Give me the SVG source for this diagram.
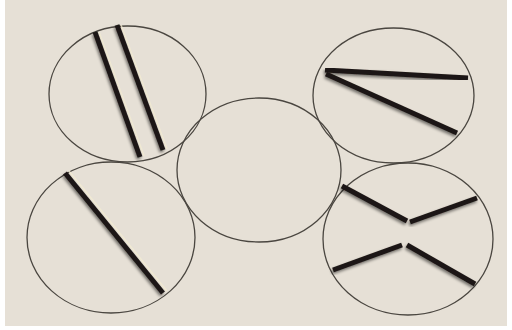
<svg xmlns="http://www.w3.org/2000/svg" width="512" height="330" viewBox="0 0 512 330">
<style>
.ring{fill:none;stroke:#4a4640;stroke-width:1.3}
.bar{stroke:#1c1614;stroke-width:5;stroke-linecap:butt;filter:url(#sh)}
.hl{stroke:#f3ecd2;stroke-width:1.5;opacity:0.8}
</style>
<defs>
<filter id="sh" x="-20%" y="-20%" width="140%" height="140%">
<feGaussianBlur in="SourceAlpha" stdDeviation="1.8"/>
<feOffset dx="-1" dy="1.5" result="b"/>
<feComponentTransfer><feFuncA type="linear" slope="0.5"/></feComponentTransfer>
<feMerge><feMergeNode/><feMergeNode in="SourceGraphic"/></feMerge>
</filter>
</defs>
<rect width="512" height="330" fill="#ffffff"/>
<rect x="5" y="0" width="502" height="326" fill="#e6e0d6"/>
<g id="circle-top-left">
<ellipse class="ring" cx="127.5" cy="94" rx="78.5" ry="68"/>
<line class="hl" x1="99" y1="32" x2="144" y2="156"/>
<line class="hl" x1="121" y1="25" x2="167" y2="149"/>
<line class="bar" x1="95" y1="32" x2="140" y2="157"/>
<line class="bar" x1="117" y1="25" x2="163" y2="150"/>
</g>
<g id="circle-top-right">
<ellipse class="ring" cx="393.5" cy="95.5" rx="80.5" ry="67.5"/>
<line class="bar" x1="325" y1="70" x2="468" y2="78"/>
<line class="bar" x1="326" y1="74" x2="457" y2="133"/>
</g>
<g id="circle-center">
<ellipse class="ring" cx="259" cy="170" rx="82" ry="72"/>
</g>
<g id="circle-bottom-left">
<ellipse class="ring" cx="111" cy="237.5" rx="84" ry="75.5"/>
<line class="hl" x1="69" y1="171" x2="167" y2="291"/>
<line class="bar" x1="65" y1="173" x2="163" y2="293"/>
</g>
<g id="circle-bottom-right">
<ellipse class="ring" cx="408" cy="239" rx="85" ry="76"/>
<line class="bar" x1="342" y1="186" x2="407" y2="221"/>
<line class="bar" x1="410" y1="222" x2="477" y2="198"/>
<line class="bar" x1="333" y1="270" x2="402" y2="245"/>
<line class="bar" x1="407" y1="245" x2="475" y2="284"/>
</g>
</svg>
